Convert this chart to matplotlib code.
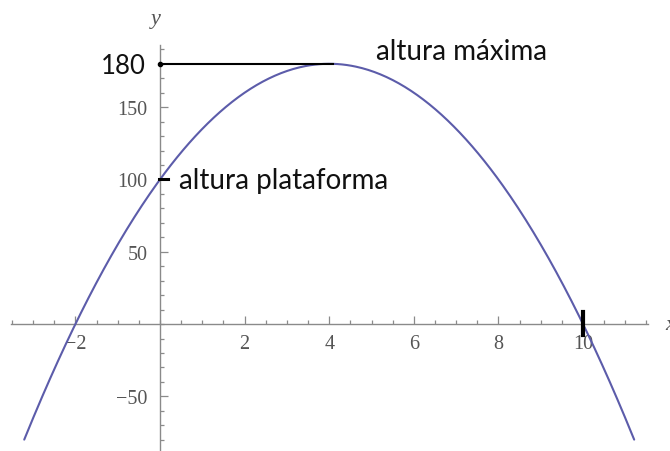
import numpy as np
import matplotlib
matplotlib.use("Agg")
import matplotlib.pyplot as plt
from matplotlib.ticker import FixedLocator

# Height of the projectile: h(t) = a t^2 + b t + c
coef_a, coef_b, coef_c = -5.0, 40.0, 100.0
t_range = [-3.21, 11.21]

x_major = [-2, 2, 4, 6, 8, 10]
x_labels = ["\u22122", "2", "4", "6", "8", "10"]
x_minor = np.arange(-3.5, 11.51, 0.5)
y_major = [-50, 50, 100, 150]
y_labels = ["\u221250", "50", "100", "150"]
y_minor = np.arange(-80, 191, 10)

max_t, max_h = 4.0, 180.0
platform_h = 100.0
ground_t = 10.0

fig = plt.figure(figsize=(6.70, 4.52), dpi=100)
ax = fig.add_axes([0, 0, 1, 1])
ax.set_xlim(-3.783, 12.057)
ax.set_ylim(-87.8, 224.8)

# Axes through the origin, Mathematica style
for s in ("top", "right"):
    ax.spines[s].set_visible(False)
ax.spines["left"].set_position(("data", 0))
ax.spines["bottom"].set_position(("data", 0))
ax.spines["left"].set_bounds(-90, 193)
ax.spines["bottom"].set_bounds(-3.52, 11.54)
for s in ("left", "bottom"):
    ax.spines[s].set_color("#8a8a8a")
    ax.spines[s].set_linewidth(1.0)

ax.xaxis.set_major_locator(FixedLocator(x_major))
ax.set_xticklabels(x_labels)
ax.xaxis.set_minor_locator(FixedLocator(x_minor))
ax.yaxis.set_major_locator(FixedLocator(y_major))
ax.set_yticklabels(y_labels)
ax.yaxis.set_minor_locator(FixedLocator(y_minor))
ax.tick_params(which="both", direction="in", color="#8a8a8a", width=0.9,
               labelcolor="#555555", labelsize=14.5)
ax.tick_params(which="major", length=6)
ax.tick_params(which="minor", length=3)
ax.tick_params(axis="x", which="major", pad=7)
ax.tick_params(axis="y", which="major", pad=9)
for lab in ax.get_xticklabels() + ax.get_yticklabels():
    lab.set_family("Liberation Serif")

# Axis names
ax.text(-0.1, 211, "y", family="Liberation Serif", style="italic",
        fontsize=16, color="#555555", ha="center", va="center")
ax.text(11.95, 0, "x", family="Liberation Serif", style="italic",
        fontsize=16, color="#555555", ha="left", va="center")

# Trajectory
t = np.linspace(t_range[0], t_range[1], 400)
h = coef_a * t**2 + coef_b * t + coef_c
ax.plot(t, h, color="#5c5caa", lw=1.5, solid_capstyle="round", zorder=3)

# Maximum height marker line
ax.plot([0, max_t + 0.1], [max_h, max_h], color="black", lw=1.5, zorder=4)
ax.plot([0], [max_h], marker="o", ms=3, color="black", zorder=5)
# Platform marker
ax.plot([-0.03, 0.2], [platform_h, platform_h], color="black", lw=2.2, zorder=5)
# Ground impact marker
ax.plot([ground_t, ground_t], [8.3, -7.6], color="black", lw=3, zorder=5)

txt = dict(family=["Lato", "DejaVu Sans"], fontsize=20, color="#111111")
ax.text(-0.33, max_h - 1.5, "180", ha="right", va="center",
        **{**txt, "fontsize": 18.5})
ax.text(5.1, 188.5, "altura máxima", ha="left", va="center", **txt)
ax.text(0.44, platform_h - 0.5, "altura plataforma", ha="left", va="center", **txt)

fig.savefig("out.png", dpi=100)
